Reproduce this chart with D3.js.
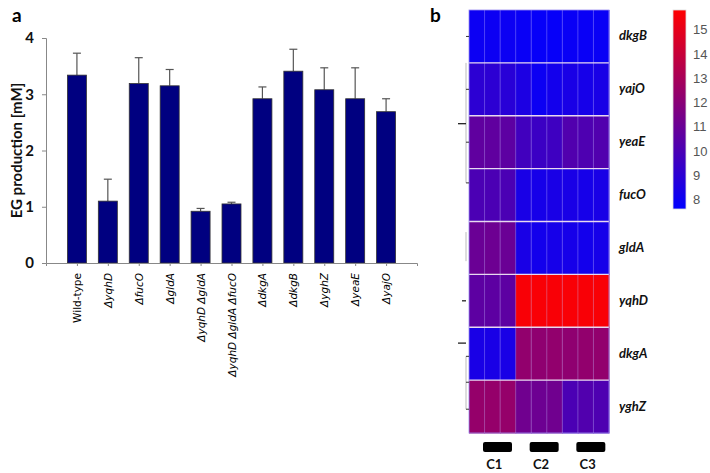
<!DOCTYPE html>
<html>
<head>
<meta charset="UTF-8">
<script src="https://cdnjs.cloudflare.com/ajax/libs/d3/7.8.5/d3.min.js"></script>
<style>
  body { margin: 0; background: #fff; }
  svg { display: block; }
</style>
</head>
<body>
<svg id="chart" width="710" height="473"></svg>
<script>
// panel a: EG production per strain
const strains = ["Wild-type", "ΔyqhD", "ΔfucO", "ΔgldA", "ΔyqhD ΔgldA", "ΔyqhD ΔgldA ΔfucO",
  "ΔdkgA", "ΔdkgB", "ΔyghZ", "ΔyeaE", "ΔyajO"];
const egMean = [3.34, 1.10, 3.19, 3.15, 0.92, 1.05, 2.92, 3.41, 3.08, 2.92, 2.69];
const egErr = [0.39, 0.39, 0.46, 0.29, 0.05, 0.03, 0.21, 0.39, 0.39, 0.55, 0.23];
const yTicks = [0, 1, 2, 3, 4];

// panel b: expression heatmap (9 samples, C1..C3 triplicates)
const genes = ["dkgB", "yajO", "yeaE", "fucO", "gldA", "yqhD", "dkgA", "yghZ"];
const groups = ["C1", "C2", "C3"];
const expr = [
  [8.0, 8.0, 8.0, 7.9, 7.8, 7.8, 7.9, 7.9, 7.9],
  [9.0, 9.0, 8.9, 8.5, 8.0, 8.2, 8.4, 8.3, 8.4],
  [10.7, 10.7, 10.6, 9.7, 9.5, 9.6, 10.2, 10.1, 10.2],
  [10.0, 10.0, 10.0, 8.4, 8.3, 8.4, 8.4, 8.3, 8.4],
  [11.0, 11.1, 11.0, 8.4, 8.2, 8.3, 8.3, 8.2, 8.3],
  [10.6, 10.6, 10.6, 15.6, 15.6, 15.6, 15.6, 15.6, 15.6],
  [8.4, 8.4, 8.4, 12.3, 12.2, 12.3, 12.2, 12.3, 12.3],
  [12.4, 12.4, 12.4, 11.2, 11.1, 11.2, 10.0, 10.2, 10.1]
];
const legendTicks = [8, 9, 10, 11, 12, 13, 14, 15];
const legendDomain = [7.6, 15.8];

const svg = d3.select("#chart");

// ---------- panel a ----------
const x = d3.scalePoint().domain(strains).range([46, 417]).padding(1);
const y = d3.scaleLinear().domain([0, 4]).range([263, 38]);
const barW = 19;

svg.append("text").attr("x", 12).attr("y", 22)
  .attr("font-family", "Lato, 'Open Sans', sans-serif").attr("font-weight", "bold")
  .attr("font-size", 19).text("a");

const ya = svg.append("g").attr("transform", "translate(46,0)")
  .call(d3.axisLeft(y).tickValues(yTicks).tickSize(4).tickPadding(8).tickFormat(d3.format("d")));
ya.select(".domain").attr("stroke", "#888");
ya.selectAll(".tick line").attr("stroke", "#888");
ya.selectAll("text").attr("font-family", "Lato, 'Open Sans', sans-serif")
  .attr("font-weight", "bold").attr("font-size", 15).attr("fill", "#111");

svg.append("text")
  .attr("transform", `translate(22,${y(2)}) rotate(-90)`)
  .attr("text-anchor", "middle")
  .attr("font-family", "Lato, 'Open Sans', sans-serif").attr("font-weight", "bold")
  .attr("font-size", 15).attr("fill", "#111")
  .text("EG production [mM]");

// error bars (upper only)
const eb = svg.append("g").selectAll("g").data(strains).join("g");
eb.append("line")
  .attr("x1", d => x(d)).attr("x2", d => x(d))
  .attr("y1", (d, i) => y(egMean[i])).attr("y2", (d, i) => y(egMean[i] + egErr[i]))
  .attr("stroke", "#555").attr("stroke-width", 1.2);
eb.append("line")
  .attr("x1", d => x(d) - 4).attr("x2", d => x(d) + 4)
  .attr("y1", (d, i) => y(egMean[i] + egErr[i])).attr("y2", (d, i) => y(egMean[i] + egErr[i]))
  .attr("stroke", "#555").attr("stroke-width", 1.2);

svg.append("g").selectAll("rect").data(strains).join("rect")
  .attr("x", d => x(d) - barW / 2).attr("width", barW)
  .attr("y", (d, i) => y(egMean[i])).attr("height", (d, i) => y(0) - y(egMean[i]))
  .attr("fill", "#000080").attr("stroke", "#333").attr("stroke-width", 0.8);

const xa = svg.append("g").attr("transform", `translate(0,${y(0)})`)
  .call(d3.axisBottom(x).tickSize(3).tickFormat(""));
xa.select(".domain").attr("stroke", "#888");
xa.selectAll(".tick line").attr("stroke", "#888");

svg.append("g").selectAll("text").data(strains).join("text")
  .attr("transform", d => `translate(${x(d) + 4},${y(0) + 10}) rotate(-90)`)
  .attr("text-anchor", "end")
  .attr("font-family", "'DejaVu Sans', sans-serif").attr("font-size", 10.5)
  .attr("font-style", d => d === "Wild-type" ? "normal" : "italic")
  .attr("fill", "#000")
  .text(d => d);

// ---------- panel b ----------
svg.append("text").attr("x", 430).attr("y", 22)
  .attr("font-family", "Lato, 'Open Sans', sans-serif").attr("font-weight", "bold")
  .attr("font-size", 19).text("b");

const cols = d3.range(9);
const hx = d3.scaleBand().domain(cols).range([469, 609]);
const hy = d3.scaleBand().domain(genes).range([10, 433]);
const color = d3.scaleLinear().domain(legendDomain).range(["#0000ff", "#ff0000"]).clamp(true);

const cells = [];
genes.forEach((g, r) => cols.forEach(c => cells.push({ g, c, v: expr[r][c] })));

const hm = svg.append("g");
hm.selectAll("rect").data(cells).join("rect")
  .attr("x", d => hx(d.c)).attr("y", d => hy(d.g))
  .attr("width", hx.bandwidth() + 0.5).attr("height", hy.bandwidth() + 0.5)
  .attr("fill", d => color(d.v));

// thin column separators
hm.selectAll("line.col").data(cols.slice(1)).join("line").attr("class", "col")
  .attr("x1", d => hx(d)).attr("x2", d => hx(d))
  .attr("y1", 10).attr("y2", 433)
  .attr("stroke", "#c8b8ff").attr("stroke-opacity", 0.45).attr("stroke-width", 0.8);
// row separators
hm.selectAll("line.row").data(genes.slice(1)).join("line").attr("class", "row")
  .attr("x1", 469).attr("x2", 609)
  .attr("y1", d => hy(d)).attr("y2", d => hy(d))
  .attr("stroke", "#e8d8f0").attr("stroke-width", 1.4);
hm.append("rect").attr("x", 469).attr("y", 10).attr("width", 140).attr("height", 423)
  .attr("fill", "none").attr("stroke", "#9a8cf0").attr("stroke-width", 0.8);

// gene labels
svg.append("g").selectAll("text").data(genes).join("text")
  .attr("x", 619).attr("y", d => hy(d) + hy.bandwidth() / 2 + 4)
  .attr("font-family", "Lato, 'Open Sans', sans-serif").attr("font-weight", "bold")
  .attr("font-style", "italic").attr("font-size", 13).attr("fill", "#111")
  .text(d => d);

// faint dendrogram on the left (in row-index units)
const rowY = i => 10 + i * hy.step();
const dendroV = [[1.0, 3.27], [6.55, 7.55], [4.2, 4.75]];
const dendroT = [0.5, 1.5, 2.5, 3.27, 6.55, 7.04, 7.55];
const dendroK = [[2.15, 8], [5.5, 4], [6.3, 8]];
const dg = svg.append("g");
dg.selectAll("line.v").data(dendroV).join("line").attr("class", "v")
  .attr("x1", 466).attr("x2", 466).attr("y1", d => rowY(d[0])).attr("y2", d => rowY(d[1]))
  .attr("stroke", "#bbb").attr("stroke-width", 1);
dg.selectAll("line.t").data(dendroT).join("line").attr("class", "t")
  .attr("x1", 466).attr("x2", 469).attr("y1", d => rowY(d)).attr("y2", d => rowY(d))
  .attr("stroke", "#333").attr("stroke-width", 1);
dg.selectAll("line.k").data(dendroK).join("line").attr("class", "k")
  .attr("x1", d => 466 - d[1]).attr("x2", 466).attr("y1", d => rowY(d[0])).attr("y2", d => rowY(d[0]))
  .attr("stroke", "#222").attr("stroke-width", 1.3);

// group bars
const gx = d3.scaleBand().domain(groups).range([469, 609]);
svg.append("g").selectAll("rect").data(groups).join("rect")
  .attr("x", d => gx(d) + 14).attr("y", 442).attr("width", 29).attr("height", 10)
  .attr("rx", 2).attr("fill", "#000");
svg.append("g").selectAll("text").data(groups).join("text")
  .attr("x", d => gx(d) + gx.bandwidth() / 2 + 2).attr("y", 469)
  .attr("text-anchor", "middle")
  .attr("font-family", "Lato, 'Open Sans', sans-serif").attr("font-weight", "bold")
  .attr("font-size", 13).attr("fill", "#111")
  .text(d => d);

// colour legend
const ly = d3.scaleLinear().domain(legendDomain).range([209, 10]);
const defs = svg.append("defs");
const grad = defs.append("linearGradient").attr("id", "lg")
  .attr("x1", 0).attr("y1", 1).attr("x2", 0).attr("y2", 0);
grad.append("stop").attr("offset", 0).attr("stop-color", color(legendDomain[0]));
grad.append("stop").attr("offset", 1).attr("stop-color", color(legendDomain[1]));
svg.append("rect").attr("x", 673).attr("y", ly(legendDomain[1]))
  .attr("width", 13).attr("height", ly(legendDomain[0]) - ly(legendDomain[1]))
  .attr("fill", "url(#lg)").attr("stroke", "#ddd").attr("stroke-width", 0.8);
svg.append("g").selectAll("text").data(legendTicks).join("text")
  .attr("x", 693).attr("y", d => ly(d) + 5)
  .attr("font-family", "'Liberation Sans', Arial, sans-serif").attr("font-size", 13)
  .attr("fill", "#555")
  .text(d => d);
</script>
</body>
</html>
